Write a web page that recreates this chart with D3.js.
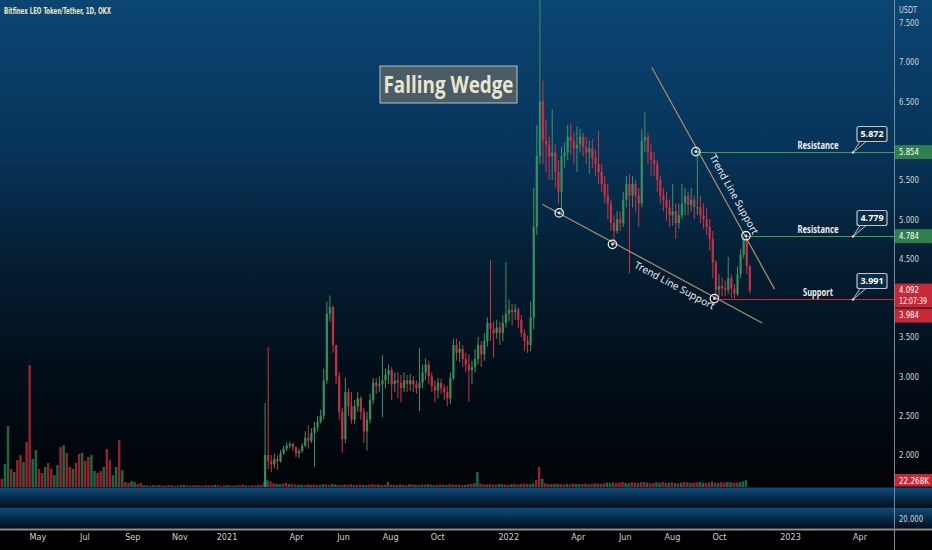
<!DOCTYPE html>
<html>
<head>
<meta charset="utf-8">
<script src="https://cdn.jsdelivr.net/npm/d3@7"></script>
<style>
html, body { margin: 0; padding: 0; background: #000; overflow: hidden; }
svg { display: block; }
.narrow { font-family: "Liberation Sans Narrow", "DejaVu Sans Condensed", "Liberation Sans", sans-serif; }
</style>
</head>
<body>
<svg id="chart" width="932" height="550"></svg>
<script>
// LEO/USDT daily, resampled to 4-day candles
const candleStart = "2021-01-01";
const candleStepDays = 4;
const firstOpen = 1.30;
const candleClose = [1.32,1.34,1.30,1.28,1.31,1.35,1.33,1.36,1.38,1.40,1.41,
  1.42,2.00,1.92,1.88,1.95,1.92,2.02,2.08,2.12,2.14,
  2.10,2.02,2.05,2.12,2.22,2.18,2.28,2.35,2.42,2.50,
  2.95,3.80,3.88,3.40,3.00,2.55,2.20,2.80,2.62,2.45,
  2.62,2.72,2.55,2.30,2.45,2.70,2.92,2.88,2.90,2.95,
  3.02,3.08,2.90,2.95,2.92,2.85,2.95,2.90,2.95,2.90,
  2.85,2.92,3.05,3.15,3.00,2.88,2.82,2.92,2.85,2.80,
  2.72,2.98,3.40,3.30,3.35,3.22,3.15,3.08,3.12,3.22,
  3.40,3.28,3.45,3.68,3.60,3.55,3.62,3.55,3.68,3.80,
  3.85,3.82,3.85,3.72,3.55,3.45,3.40,3.75,4.90,5.80,
  6.50,6.00,5.95,5.80,5.85,5.60,5.35,5.80,5.85,6.05,
  6.00,5.90,5.95,6.05,5.92,5.85,5.90,5.78,5.70,5.60,
  5.45,5.30,5.20,4.95,4.85,5.00,4.95,5.25,5.45,5.30,
  5.45,5.30,5.20,6.00,6.05,5.85,5.75,5.70,5.50,5.30,
  5.25,5.15,5.05,5.10,4.95,5.05,5.20,5.30,5.18,5.25,
  5.15,5.15,5.05,5.00,4.90,4.75,4.45,4.10,4.15,4.12,
  4.10,4.25,4.12,4.05,4.30,4.55,4.75,4.40,4.09];
const candleHigh = [1.36,1.37,1.36,1.33,1.34,1.38,1.37,1.39,1.42,1.44,1.45,
  1.50,2.66,3.37,2.00,2.02,2.00,2.06,2.12,2.16,2.17,
  2.16,2.10,2.08,2.15,2.30,2.38,2.34,2.42,2.50,2.58,
  3.10,3.95,4.03,3.90,3.40,3.05,2.60,2.98,2.85,2.80,
  2.70,2.80,2.75,2.60,2.55,2.78,2.98,2.98,3.00,3.27,
  3.10,3.15,3.12,3.05,3.05,3.02,3.05,3.02,3.03,3.00,
  2.95,3.36,3.15,3.23,3.20,3.05,2.95,2.98,2.97,2.90,
  2.88,3.05,3.48,3.48,3.45,3.40,3.30,3.28,3.20,3.35,
  3.50,3.45,3.55,3.75,4.48,3.70,3.72,3.70,3.78,4.45,
  3.98,3.92,3.92,3.88,3.78,3.60,3.52,3.95,5.40,6.20,
  7.90,6.76,6.26,6.05,6.40,5.95,5.75,5.92,5.98,6.20,
  6.22,6.10,6.18,6.15,6.10,6.05,6.00,6.02,5.88,6.12,
  5.70,5.55,5.45,5.25,5.05,5.10,5.10,5.35,5.55,5.58,
  5.55,5.50,5.40,6.15,6.36,6.10,5.95,5.85,5.75,5.55,
  5.40,5.35,5.25,5.45,5.20,5.20,5.45,5.40,5.35,5.40,
  5.30,5.86,5.30,5.20,5.15,5.00,4.85,4.48,4.30,4.26,
  4.22,4.52,4.30,4.18,4.40,4.62,4.78,4.79,4.42];
const candleLow = [1.28,1.29,1.27,1.25,1.27,1.30,1.30,1.32,1.34,1.36,1.37,
  1.36,1.40,1.82,1.78,1.83,1.81,1.90,2.00,2.05,2.08,
  2.05,1.97,1.96,2.03,2.10,2.08,2.15,1.85,2.30,2.40,
  2.45,2.90,3.70,3.30,2.90,2.45,2.03,2.15,2.50,2.40,
  2.40,2.55,2.45,2.15,2.06,2.40,2.65,2.78,2.80,2.48,
  2.85,2.90,2.70,2.80,2.72,2.67,2.80,2.80,2.82,2.80,
  2.78,2.56,2.85,2.95,2.90,2.80,2.67,2.72,2.78,2.70,
  2.62,2.65,2.95,3.20,3.18,3.12,3.05,2.68,2.90,3.05,
  3.15,3.12,3.20,3.38,3.45,3.24,3.48,3.40,3.45,3.62,
  3.70,3.65,3.72,3.62,3.50,3.32,3.30,3.32,3.60,4.80,
  5.70,5.70,5.60,5.50,5.50,5.40,5.20,5.07,5.65,5.75,
  5.82,5.70,5.60,5.85,5.80,5.70,5.58,5.65,5.55,5.45,
  5.35,5.20,5.00,4.85,4.68,4.82,4.85,4.90,5.15,4.31,
  5.15,5.10,4.90,5.15,5.85,5.70,5.55,5.55,5.35,5.20,
  5.10,4.98,4.90,4.92,4.75,4.88,5.00,5.05,5.05,5.10,
  5.00,5.05,4.95,4.88,4.80,4.60,4.25,3.99,4.00,4.02,
  4.02,4.05,4.00,3.99,4.02,4.25,4.50,4.30,4.05];

// volume in thousands, 4-day buckets from the left edge
const volumeStart = "2020-03-14";
const volumeStepDays = 4;
const volumeK = [26,74,195,58,48,86,102,80,144,390,90,118,58,45,64,77,58,38,70,128,
  134,109,64,58,77,106,109,83,96,102,51,45,51,64,122,86,38,64,150,54,16,13,19,16,10,13,
  6,5,4,6,5,7,4,5,6,5,4,5,6,7,5,4,5,6,5,4,6,5,5,7,6,4,5,6,5,4,5,6,8,5,4,6,5,7,6,
  15,22,18,12,10,9,11,14,10,9,8,
  7,8,6,9,7,8,6,7,9,8,7,10,8,7,6,8,7,9,6,7,8,7,6,8,9,7,8,6,7,16,
  8,7,6,8,7,6,9,8,7,6,8,7,9,8,6,7,8,7,6,9,8,7,8,6,7,
  9,10,12,48,11,8,
  8,9,7,8,10,9,8,7,9,10,8,9,11,10,9,12,
  22,64,26,
  12,10,9,11,10,9,8,10,9,11,10,9,10,11,9,10,12,11,10,
  12,14,13,15,12,14,16,13,12,15,14,13,15,16,14,12,13,15,14,16,13,14,15,13,12,14,16,15,13,14,
  15,16,14,13,15,17,14,13,15,14,16,15,13,14,16,18,22];
const volumeDir = "duududdudduuddudduududduddudduuddudduudu" +
  "dduudduduudduddudduuduuddudduuddduduuddu" +
  "udduddudduuddudduuddudduudduudduddudduud" +
  "dduddudduuddududduududduudduddudduuddudd" +
  "duudduddudduudduddududdudduudduddudduudd" +
  "dduudduddudduuddudududdudduuddududduuddu";

const timeTickDates = ["2020-05-01","2020-07-01","2020-09-01","2020-11-01","2021-01-01","2021-04-01",
  "2021-06-01","2021-08-01","2021-10-01","2022-01-01","2022-04-01","2022-06-01","2022-08-01",
  "2022-10-01","2023-01-01","2023-04-01"];
const timeTickLabels = ["May","Jul","Sep","Nov","2021","Apr","Jun","Aug","Oct","2022","Apr","Jun","Aug","Oct","2023","Apr"];
const priceTicks = [2, 2.5, 3, 3.5, 4, 4.5, 5, 5.5, 6, 6.5, 7, 7.5];

// drawings
const trendUpper = [["2022-07-06", 6.93], ["2022-12-12", 4.11]];
const trendLower = [["2022-02-14", 5.19], ["2022-11-26", 3.68]];
const pivotPoints = [["2022-03-08", 5.08], ["2022-05-16", 4.68], ["2022-09-25", 3.99], ["2022-09-01", 5.86], ["2022-11-05", 4.79]];
const levelPrices = [5.854, 4.784, 3.984];
const levelStarts = ["2022-09-01", "2022-11-05", "2022-09-25"];
const levelNames = ["Resistance", "Resistance", "Support"];
const levelCallouts = ["5.872", "4.779", "3.991"];
const lastPrice = 4.092, countdown = "12:07:39", lastVolume = 22.268;
const title = "Bitfinex LEO Token/Tether, 1D, OKX";
const patternName = "Falling Wedge";

const W = 932, H = 550, plotRight = 894, mainBottom = 487;
const UP = "#3a9462", DOWN = "#cf3447", GREEN = "#43a047", RED = "#c62838";
const parse = d3.utcParse("%Y-%m-%d");

const x = d3.scaleUtc().domain([Date.UTC(2021, 0, 1), Date.UTC(2023, 0, 1)]).range([226.5, 790]);
const y = d3.scaleLinear().domain([2, 7.5]).range([455, 22.7]);
const yv = d3.scaleLinear().domain([0, 400]).range([mainBottom, 362]);

const svg = d3.select("#chart");
const defs = svg.append("defs");

const bg = defs.append("linearGradient").attr("id", "bgMain").attr("x1", 0).attr("y1", 0).attr("x2", 0).attr("y2", 1);
[[0, "#0b4673"], [0.3, "#07345a"], [0.55, "#041d31"], [0.78, "#020d17"], [1, "#010307"]]
  .forEach(s => bg.append("stop").attr("offset", s[0]).attr("stop-color", s[1]));
const pg = defs.append("linearGradient").attr("id", "bgPane").attr("x1", 0).attr("y1", 0).attr("x2", 0).attr("y2", 1);
[[0, "#0e4c7b"], [0.5, "#082c4a"], [1, "#03101c"]]
  .forEach(s => pg.append("stop").attr("offset", s[0]).attr("stop-color", s[1]));
defs.append("clipPath").attr("id", "clipMain").append("rect")
  .attr("x", 0).attr("y", 0).attr("width", plotRight).attr("height", mainBottom);

// backgrounds
svg.append("rect").attr("width", W).attr("height", mainBottom).attr("fill", "url(#bgMain)");
svg.append("rect").attr("y", mainBottom + 0.5).attr("width", W).attr("height", 20).attr("fill", "url(#bgPane)");
svg.append("rect").attr("y", 508).attr("width", W).attr("height", 20).attr("fill", "url(#bgPane)");
svg.append("rect").attr("y", 530).attr("width", W).attr("height", 20).attr("fill", "#000");
svg.append("line").attr("x1", 0).attr("x2", W).attr("y1", 529.5).attr("y2", 529.5).attr("stroke", "#8e8e8e").attr("stroke-width", 2);
svg.append("line").attr("x1", 0).attr("x2", plotRight).attr("y1", 507.5).attr("y2", 507.5).attr("stroke", "#0a2235");

const main = svg.append("g").attr("clip-path", "url(#clipMain)");

// volume
const vStart = parse(volumeStart);
const vw = (x(d3.utcDay.offset(vStart, volumeStepDays)) - x(vStart)) * 0.8;
main.append("g").selectAll("rect").data(volumeK).join("rect")
  .attr("x", (d, k) => x(d3.utcDay.offset(vStart, k * volumeStepDays + volumeStepDays / 2)) - vw / 2)
  .attr("width", vw)
  .attr("y", d => yv(d))
  .attr("height", d => mainBottom - yv(d))
  .attr("fill", (d, k) => volumeDir[k] === "d" ? "#c8303f" : "#2f8a58")
  .attr("opacity", 0.72);

// candles
const cStart = parse(candleStart);
const candles = candleClose.map((c, i) => {
  const o = i === 0 ? firstOpen : candleClose[i - 1];
  return {
    date: d3.utcDay.offset(cStart, i * candleStepDays + candleStepDays / 2),
    o, c,
    h: Math.max(candleHigh[i], o, c),
    l: Math.min(candleLow[i], o, c)
  };
});
const cw = (x(d3.utcDay.offset(cStart, candleStepDays)) - x(cStart)) * 0.75;
const cg = main.append("g").selectAll("g").data(candles).join("g");
cg.append("line")
  .attr("x1", d => x(d.date)).attr("x2", d => x(d.date))
  .attr("y1", d => y(d.h)).attr("y2", d => y(d.l))
  .attr("stroke", d => d.c >= d.o ? UP : DOWN).attr("stroke-width", 1);
cg.append("rect")
  .attr("x", d => x(d.date) - cw / 2).attr("width", cw)
  .attr("y", d => y(Math.max(d.o, d.c)))
  .attr("height", d => Math.max(1, Math.abs(y(d.o) - y(d.c))))
  .attr("fill", d => d.c >= d.o ? UP : DOWN).attr("opacity", 0.85);

// trend lines
const tl = d3.line().x(d => x(parse(d[0]))).y(d => y(d[1]));
[trendUpper, trendLower].forEach(t => {
  main.append("path").attr("d", tl(t)).attr("fill", "none").attr("stroke", "#a8916c").attr("stroke-width", 1.2);
});
function alongText(t, frac, dy, txt) {
  const x0 = x(parse(t[0][0])), y0 = y(t[0][1]), x1 = x(parse(t[1][0])), y1 = y(t[1][1]);
  const px = x0 + (x1 - x0) * frac, py = y0 + (y1 - y0) * frac;
  const ang = Math.atan2(y1 - y0, x1 - x0) * 180 / Math.PI;
  main.append("text").attr("transform", `translate(${px},${py}) rotate(${ang})`)
    .attr("dy", dy).attr("text-anchor", "middle")
    .attr("font-family", "'Noto Sans', 'Open Sans', sans-serif").attr("font-size", 10)
    .attr("fill", "#eeeeee").text(txt);
}
alongText(trendUpper, 0.595, -7, "Trend Line Support");
alongText(trendLower, 0.62, 12, "Trend Line Support");

// horizontal levels
levelPrices.forEach((p, i) => {
  const col = levelNames[i] === "Support" ? RED : GREEN;
  const ly = Math.round(y(p)) + 0.5;
  svg.append("line").attr("x1", x(parse(levelStarts[i]))).attr("x2", plotRight)
    .attr("y1", ly).attr("y2", ly).attr("stroke", col).attr("stroke-width", 1.2);
  svg.append("text").attr("x", plotRight - 76).attr("y", ly - 3.5).attr("text-anchor", "middle")
    .attr("font-family", "'Noto Sans', 'Open Sans', sans-serif").attr("font-weight", "bold")
    .attr("font-size", 10).attr("fill", "#ececec")
    .attr("textLength", levelNames[i] === "Support" ? 30 : 41).attr("lengthAdjust", "spacingAndGlyphs")
    .text(levelNames[i]);
  // callout
  const bx = plotRight - 37, by = ly - 26, bw = 30, bh = 15;
  const px = plotRight - 41;
  svg.append("path").attr("d", `M${px},${ly} L${bx + 3},${by + bh} L${bx + 9},${by + bh} Z`)
    .attr("fill", "#0a2c46").attr("stroke", "#bdbdbd").attr("stroke-width", 1);
  svg.append("rect").attr("x", bx).attr("y", by).attr("width", bw).attr("height", bh).attr("rx", 2)
    .attr("fill", "#0a2c46").attr("stroke", "#c4c4c4").attr("stroke-width", 1.2);
  svg.append("circle").attr("cx", px).attr("cy", ly).attr("r", 1.2).attr("fill", "#ddd");
  svg.append("text").attr("x", bx + bw / 2).attr("y", by + bh / 2 + 3.4).attr("text-anchor", "middle")
    .attr("font-family", "'Noto Sans', sans-serif").attr("font-weight", "bold")
    .attr("font-size", 9.5).attr("fill", "#fff")
    .attr("textLength", 23).attr("lengthAdjust", "spacingAndGlyphs").text(levelCallouts[i]);
});

// pivot circles
pivotPoints.forEach(p => {
  const cx = x(parse(p[0])), cy = y(p[1]);
  svg.append("circle").attr("cx", cx).attr("cy", cy).attr("r", 4.2)
    .attr("fill", "none").attr("stroke", "#e8e8e8").attr("stroke-width", 1.3);
  svg.append("circle").attr("cx", cx).attr("cy", cy).attr("r", 1.3).attr("fill", "#e8e8e8");
});

// pattern label
svg.append("rect").attr("x", 380).attr("y", 66).attr("width", 137).attr("height", 37)
  .attr("fill", "#4a5c66").attr("stroke", "#b8c0c0").attr("stroke-width", 1);
svg.append("text").attr("x", 448.5).attr("y", 93).attr("text-anchor", "middle")
  .attr("font-family", "'Open Sans', 'Noto Sans', sans-serif").attr("font-weight", "bold")
  .attr("font-size", 23).attr("fill", "#ebe5d0")
  .attr("textLength", 130).attr("lengthAdjust", "spacingAndGlyphs").text(patternName);

// title
svg.append("text").attr("class", "narrow").attr("x", 4).attr("y", 14)
  .attr("font-size", 9).attr("font-weight", "bold").attr("fill", "#e6e3c8")
  .attr("textLength", 107).attr("lengthAdjust", "spacingAndGlyphs").text(title);

// price axis tags (drawn first so covered tick labels can be skipped)
const tagBoxes = [];
function axisTag(top, h, col, lines, widths) {
  tagBoxes.push([top, top + h]);
  svg.append("rect").attr("x", plotRight + 1).attr("y", top).attr("width", W - plotRight - 1).attr("height", h).attr("fill", col);
  lines.forEach((t, j) => svg.append("text").attr("class", "narrow").attr("x", plotRight + 5)
    .attr("y", top + 9.5 + j * 11).attr("font-size", 8).attr("fill", "#fff")
    .attr("textLength", widths[j]).attr("lengthAdjust", "spacingAndGlyphs").text(t));
}
levelPrices.slice(0, 2).forEach(p => axisTag(y(p) - 7, 14, "#2f7f4f", [d3.format(".3f")(p)], [20]));
axisTag(y(lastPrice) - 7, 24, RED, [d3.format(".3f")(lastPrice), countdown], [20, 28]);
axisTag(y(lastPrice) + 18, 14, RED, [d3.format(".3f")(levelPrices[2])], [20]);
axisTag(yv(lastVolume) - 6, 12.5, RED, [d3.format(".3f")(lastVolume) + "K"], [30]);

// price axis
svg.append("line").attr("x1", plotRight + 0.5).attr("x2", plotRight + 0.5).attr("y1", 0).attr("y2", H)
  .attr("stroke", "#7c8892").attr("stroke-width", 1);
const visibleTicks = priceTicks.filter(v => !tagBoxes.some(b => y(v) + 5 > b[0] && y(v) - 5 < b[1]));
const ax = svg.append("g").attr("class", "narrow").attr("transform", `translate(${plotRight},0)`)
  .call(d3.axisRight(y).tickValues(visibleTicks).tickFormat(d3.format(".3f")).tickSize(0).tickPadding(5));
ax.select(".domain").remove();
ax.selectAll("text").attr("fill", "#d6d6d6").attr("font-size", 9)
  .attr("textLength", 20).attr("lengthAdjust", "spacingAndGlyphs");
svg.append("text").attr("class", "narrow").attr("x", plotRight + 5).attr("y", 13)
  .attr("font-size", 9).attr("fill", "#d6d6d6").attr("textLength", 18).attr("lengthAdjust", "spacingAndGlyphs").text("USDT");
svg.append("text").attr("class", "narrow").attr("x", plotRight + 5).attr("y", 521.5)
  .attr("font-size", 9).attr("fill", "#d6d6d6").attr("textLength", 24).attr("lengthAdjust", "spacingAndGlyphs").text("20.000");

// time axis
const tx = svg.append("g").attr("class", "narrow").attr("transform", "translate(0,534)")
  .call(d3.axisBottom(x).tickValues(timeTickDates.map(parse)).tickSize(0).tickPadding(0)
    .tickFormat((d, i) => timeTickLabels[i]));
tx.select(".domain").remove();
tx.selectAll("text").attr("fill", "#d0d0d0").attr("font-size", 9).attr("dy", "0.71em");
</script>
</body>
</html>
